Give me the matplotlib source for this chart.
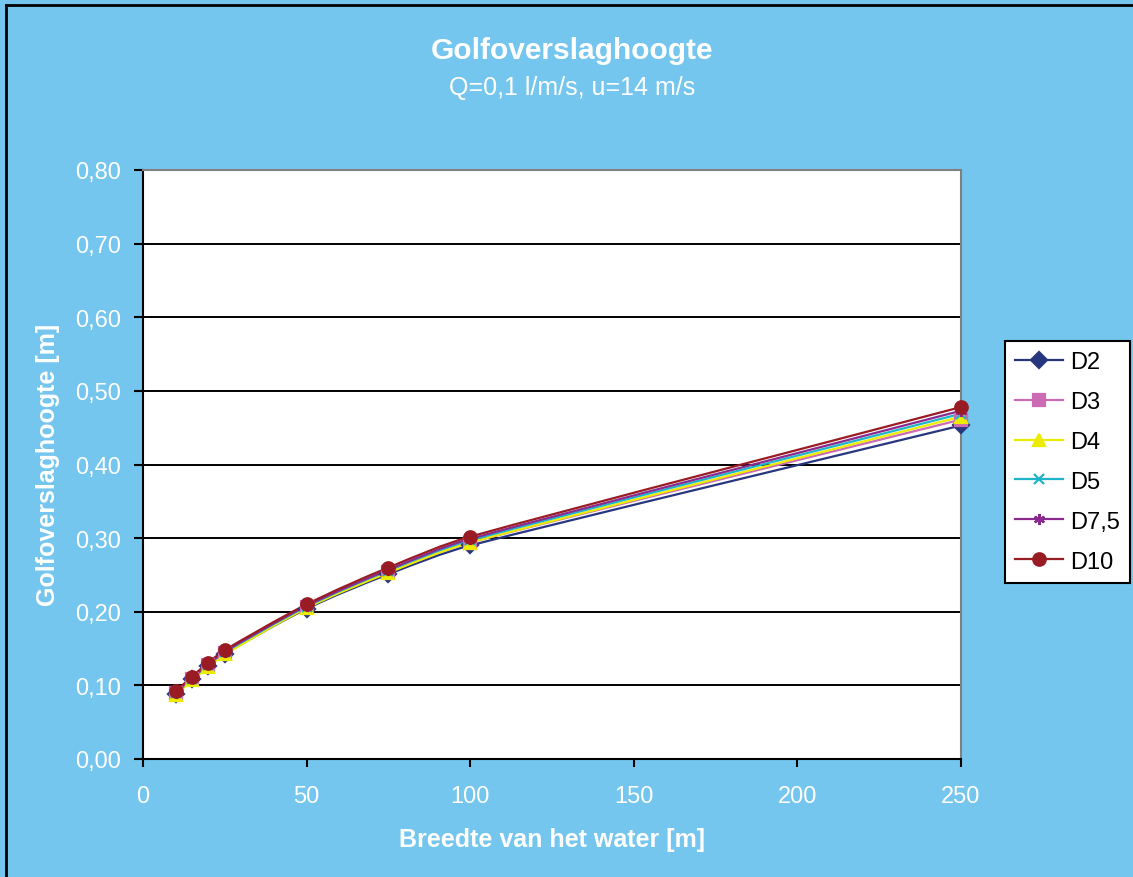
import matplotlib
matplotlib.use("Agg")
import matplotlib.pyplot as plt
from matplotlib.path import Path
from matplotlib.patches import PathPatch
from matplotlib.lines import Line2D
import numpy as np

plt.rcParams['font.family'] = ['Liberation Sans', 'DejaVu Sans']

# ---- data ----
breedte = [10, 15, 20, 25, 50, 75, 100, 250]
series_names = ["D2", "D3", "D4", "D5", "D7,5", "D10"]
D2 = [0.088, 0.108, 0.126, 0.143, 0.204, 0.251, 0.290, 0.453]
D3 = [0.089, 0.109, 0.127, 0.144, 0.206, 0.254, 0.294, 0.461]
D4 = [0.087, 0.107, 0.125, 0.142, 0.205, 0.253, 0.294, 0.465]
D5 = [0.089, 0.109, 0.128, 0.145, 0.207, 0.256, 0.297, 0.469]
D7_5 = [0.090, 0.110, 0.129, 0.146, 0.208, 0.257, 0.299, 0.473]
D10 = [0.092, 0.112, 0.131, 0.148, 0.210, 0.260, 0.302, 0.478]
y_ticks = [0.0, 0.1, 0.2, 0.3, 0.4, 0.5, 0.6, 0.7, 0.8]
y_ticklabels = ["0,00", "0,10", "0,20", "0,30", "0,40", "0,50", "0,60", "0,70", "0,80"]
x_ticks = [0, 50, 100, 150, 200, 250]

all_series = [D2, D3, D4, D5, D7_5, D10]
colors = ["#28367E", "#CC6AB4", "#ECEC00", "#1EB4CA", "#8A2A8E", "#991C24"]
markers = ["D", "s", "^", "x", (6, 2, 0), "o"]
msizes = [8, 8, 9, 7, 8, 9]

BG = "#75C6EE"

fig = plt.figure(figsize=(11.33, 8.78), dpi=100)
fig.patch.set_facecolor(BG)
W, H = 1133, 878
ax = fig.add_axes([143 / W, (H - 760) / H, 818 / W, 589 / H])
ax.set_facecolor("white")


def smooth_path(xs, ys):
    # Excel-style smoothed line (Catmull-Rom as cubic Bezier, tangent clamped)
    pts = np.column_stack([xs, ys]).astype(float)
    n = len(pts)
    verts = [pts[0]]
    codes = [Path.MOVETO]

    def tangent(i):
        a = pts[i - 1] if i > 0 else pts[i]
        b = pts[i + 1] if i + 1 < n else pts[i]
        return (b - a) / 6.0

    for i in range(n - 1):
        p1 = pts[i]
        p2 = pts[i + 1]
        lim = (p2[0] - p1[0]) / 3.0
        t1 = tangent(i)
        t2 = tangent(i + 1)
        if abs(t1[0]) > lim:
            t1 = t1 * lim / abs(t1[0])
        if abs(t2[0]) > lim:
            t2 = t2 * lim / abs(t2[0])
        verts += [p1 + t1, p2 - t2, p2]
        codes += [Path.CURVE4] * 3
    return Path(verts, codes)


handles = []
for name, ys, c, m, ms in zip(series_names, all_series, colors, markers, msizes):
    patch = PathPatch(smooth_path(breedte, ys), facecolor="none", edgecolor=c,
                      lw=1.6, zorder=3, transform=ax.transData)
    ax.add_patch(patch)
    ax.plot(breedte, ys, ls="none", marker=m, color=c, ms=ms, mew=1.6,
            zorder=4, clip_on=False)
    handles.append(Line2D([0], [0], color=c, lw=1.6, marker=m, ms=ms, mew=1.6))

ax.set_xlim(0, 250)
ax.set_ylim(0, 0.8)
ax.set_yticks(y_ticks)
ax.set_yticklabels(y_ticklabels)
ax.set_xticks(x_ticks)
ax.set_xticklabels([str(v) for v in x_ticks])

for yv in y_ticks[1:-1]:
    ax.axhline(yv, color="black", lw=1.4, zorder=1)

ax.spines["left"].set_color("black")
ax.spines["bottom"].set_color("black")
ax.spines["left"].set_linewidth(1.5)
ax.spines["bottom"].set_linewidth(1.5)
ax.spines["top"].set_color("#808080")
ax.spines["right"].set_color("#808080")
ax.spines["top"].set_linewidth(1.5)
ax.spines["right"].set_linewidth(1.5)

ax.tick_params(axis="y", direction="out", length=6.5, width=1.5, color="black",
               labelcolor="white", labelsize=17, pad=9)
ax.tick_params(axis="x", direction="out", length=6, width=1.5, color="black",
               labelcolor="white", labelsize=17, pad=13)

fig.text(572 / W, 1 - 51 / H, "Golfoverslaghoogte",
         color="white", fontsize=21.5, fontweight="bold", ha="center", va="center")
fig.text(572 / W, 1 - 88 / H, "Q=0,1 l/m/s, u=14 m/s",
         color="white", fontsize=18, ha="center", va="center")
fig.text(552 / W, 1 - 840 / H, "Breedte van het water [m]", color="white",
         fontsize=18, fontweight="bold", ha="center", va="center")
fig.text(48 / W, 1 - 465 / H, "Golfoverslaghoogte [m]", color="white",
         fontsize=18, fontweight="bold", ha="center", va="center", rotation=90)

leg = fig.legend(handles, series_names, loc="upper left",
                 bbox_to_anchor=(1005 / W, 1 - 342 / H), borderaxespad=0,
                 frameon=True, fancybox=False, edgecolor="black",
                 facecolor="white", framealpha=1, fontsize=17, labelspacing=0.76,
                 handlelength=2.05, handletextpad=0.3, borderpad=0.42)
leg.get_frame().set_linewidth(1.5)

# outer chart border (left and top visible)
fig.add_artist(Line2D([6 / W, 6 / W], [0, 1 - 6 / H], transform=fig.transFigure,
                      color="black", lw=2))
fig.add_artist(Line2D([6 / W, 1], [1 - 6 / H, 1 - 6 / H], transform=fig.transFigure,
                      color="black", lw=2))

fig.savefig("out.png", dpi=100, facecolor=BG)
